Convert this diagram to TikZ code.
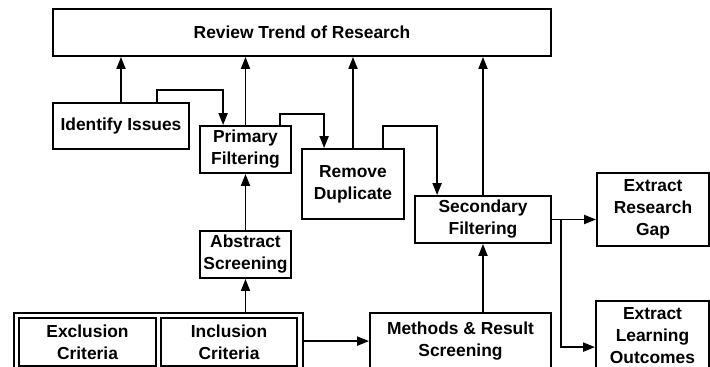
\documentclass[tikz,border=0pt]{standalone}
\usepackage{fontspec}
\setmainfont{Liberation Sans}
\usetikzlibrary{arrows.meta,calc}
\begin{document}
\begin{tikzpicture}[x=1pt,y=-1pt,
  box/.style={draw,line width=1.8pt,inner sep=0pt,align=center,
    font=\fontsize{17.4}{22}\selectfont\bfseries},
  arr/.style={line width=1.8pt,-{Triangle[length=12pt,width=9pt]}},
  ln/.style={line width=1.8pt}]
\useasboundingbox (0,0) rectangle (710,367);
\clip (0,0) rectangle (710,367);
\node[box,minimum width=498pt,minimum height=47pt] (review) at (302,32.5) {Review Trend of Research};
\node[box,minimum width=136pt,minimum height=46pt] (identify) at (121,126) {Identify Issues};
\node[box,minimum width=91pt,minimum height=47pt] (primary) at (245.5,149.5) {Primary\\Filtering};
\node[box,minimum width=102pt,minimum height=70pt] (remove) at (353,184) {Remove\\Duplicate};
\node[box,minimum width=136pt,minimum height=47pt] (secondary) at (483,219.5) {Secondary\\Filtering};
\node[box,minimum width=112pt,minimum height=73pt] (gap) at (653,209.5) {Extract\\Research\\Gap};
\node[box,minimum width=91pt,minimum height=47pt] (abstract) at (245.5,254.5) {Abstract\\Screening};
\node[box,minimum width=289pt,minimum height=62pt] (outer) at (158.5,344) {};
\node[box,minimum width=137pt,minimum height=48pt] (exclusion) at (87.5,342) {Exclusion\\Criteria};
\node[box,minimum width=136pt,minimum height=48pt] (inclusion) at (229,342) {Inclusion\\Criteria};
\node[box,minimum width=181pt,minimum height=57pt] (methods) at (460.5,341.5) {Methods \& Result\\Screening};
\node[box,minimum width=113pt,minimum height=70pt] (learning) at (652.5,336) {Extract\\Learning\\Outcomes};
% connectors
\draw[arr] (identify.north) -- (identify.north |- review.south);
\draw[arr] ([xshift=-33pt]identify.north east) -- ++(0,-12) -| ([xshift=24pt]primary.north west);
\draw[arr] (primary.north) -- (primary.north |- review.south);
\draw[arr] ([xshift=-12pt]primary.north east) -- ++(0,-11) -| ([xshift=23pt]remove.north west);
\draw[arr] (remove.north) -- (remove.north |- review.south);
\draw[arr] ([xshift=-22pt]remove.north east) -- ++(0,-22) -| ([xshift=23pt]secondary.north west);
\draw[arr] (secondary.north) -- (secondary.north |- review.south);
\draw[arr] (abstract.north) -- (primary.south);
\draw[arr] (abstract.south |- outer.north) -- (abstract.south);
\coordinate (oe) at ([yshift=-29pt]outer.north east);
\draw[arr] (oe) -- (oe -| methods.west);
\draw[arr] (secondary.south |- methods.north) -- (secondary.south);
\draw[arr] (secondary.east) -- (secondary.east -| gap.west);
\coordinate (br) at ([xshift=9pt]secondary.east);
\coordinate (lt) at ([yshift=-47pt]learning.north west);
\draw[arr] (br) |- (lt);
\end{tikzpicture}
\end{document}
